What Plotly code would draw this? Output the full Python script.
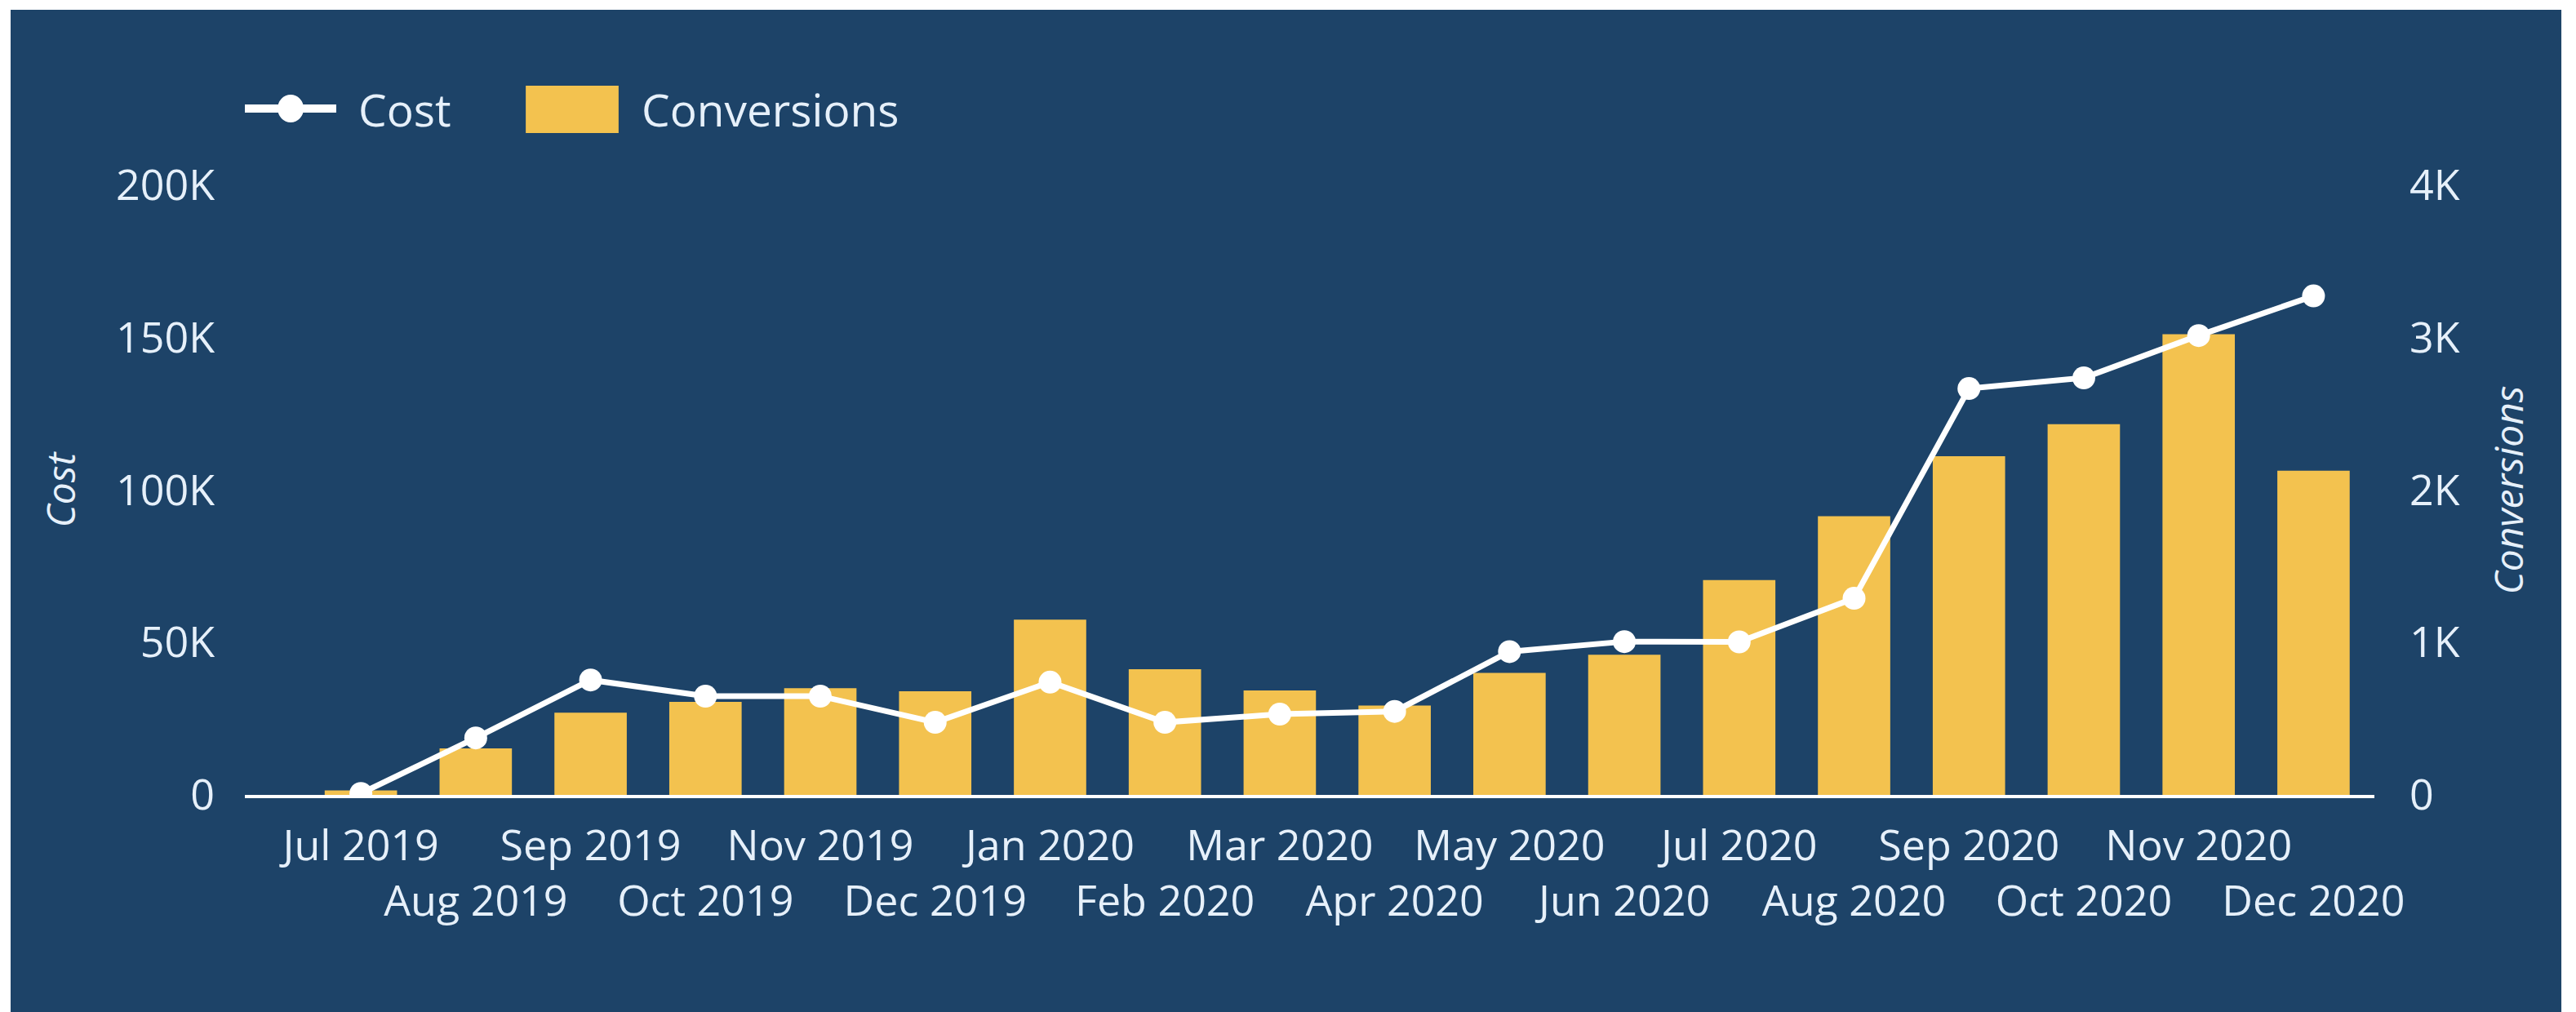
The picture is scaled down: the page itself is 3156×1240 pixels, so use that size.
import plotly.graph_objects as go

months = ["Jul 2019", "Aug 2019", "Sep 2019", "Oct 2019", "Nov 2019", "Dec 2019",
          "Jan 2020", "Feb 2020", "Mar 2020", "Apr 2020", "May 2020", "Jun 2020",
          "Jul 2020", "Aug 2020", "Sep 2020", "Oct 2020", "Nov 2020", "Dec 2020"]
cost = [500, 18700, 37700, 32400, 32400, 23800,
        37000, 23800, 26500, 27400, 47000, 50300,
        50200, 64500, 133300, 136800, 150700, 163700]
conversions = [30, 305, 540, 610, 700, 680,
               1150, 825, 685, 587, 800, 920,
               1410, 1828, 2222, 2433, 3023, 2127]
cost_ticks = [0, 50000, 100000, 150000, 200000]
cost_tick_text = ["0", "50K", "100K", "150K", "200K"]
conv_ticks = [0, 1000, 2000, 3000, 4000]
conv_tick_text = ["0", "1K", "2K", "3K", "4K"]
series_names = ["Cost", "Conversions"]

BG = "#1d4368"
BAR = "#f3c24f"
TXT = "#e6f0fa"
FONT = "Open Sans"

# staggered month labels: every second label on a second line
month_text = [m if i % 2 == 0 else "<br>" + m for i, m in enumerate(months)]

fig = go.Figure()
# bars on primary axis (right side), cost line on overlaying axis (left side) so it draws on top
fig.add_trace(go.Bar(
    x=months, y=conversions, name=series_names[1], yaxis="y",
    marker=dict(color=BAR, line=dict(width=0)), showlegend=False,
))
fig.add_trace(go.Scatter(
    x=months, y=cost, name=series_names[0], yaxis="y2",
    mode="lines+markers",
    line=dict(color="white", width=7),
    marker=dict(color="white", size=28),
    showlegend=False,
))

# custom legend (larger symbols, as in the reference)
leg_y = 1.1258
shapes = [
    dict(type="rect", xref="paper", yref="paper",
         x0=-0.110, x1=1.0878, y0=-0.4, y1=1.2878,
         fillcolor=BG, line=dict(width=0), layer="below"),
    dict(type="line", xref="paper", yref="paper",
         x0=0.0, x1=0.0429, y0=leg_y, y1=leg_y,
         line=dict(color="white", width=10)),
    dict(type="circle", xref="paper", yref="paper",
         xsizemode="pixel", ysizemode="pixel", xanchor=0.0215, yanchor=leg_y,
         x0=-16, x1=16, y0=-17, y1=17,
         fillcolor="white", line=dict(width=0)),
    dict(type="rect", xref="paper", yref="paper",
         x0=0.1319, x1=0.1755, y0=1.0857, y1=1.1633,
         fillcolor=BAR, line=dict(width=0)),
]
annotations = [
    dict(text=series_names[0], xref="paper", yref="paper", x=0.0525, y=leg_y,
         xanchor="left", yanchor="middle", showarrow=False,
         font=dict(family=FONT, size=55, color=TXT)),
    dict(text=series_names[1], xref="paper", yref="paper", x=0.1855, y=leg_y,
         xanchor="left", yanchor="middle", showarrow=False,
         font=dict(family=FONT, size=55, color=TXT)),
]

fig.update_layout(
    width=3156, height=1240,
    margin=dict(l=300, r=247, t=227, b=266),
    paper_bgcolor="white",
    plot_bgcolor=BG,
    bargap=0.37,
    font=dict(family=FONT, color=TXT, size=52),
    showlegend=False,
    shapes=shapes,
    annotations=annotations,
    xaxis=dict(
        type="category", range=[-1.01, 17.53],
        tickmode="array", tickvals=months, ticktext=month_text,
        showgrid=False, zeroline=False, showline=True,
        linecolor="white", linewidth=4, ticks="",
        tickangle=0, tickfont=dict(size=52, color=TXT), ticklabelstandoff=14,
    ),
    yaxis=dict(
        range=[0, 4000], side="right",
        tickmode="array", tickvals=conv_ticks, ticktext=conv_tick_text,
        showgrid=False, zeroline=False, showline=False, ticks="",
        tickfont=dict(size=52, color=TXT), ticklabelstandoff=42,
        title=dict(text="<i>Conversions</i>", font=dict(size=48, color=TXT), standoff=44),
    ),
    yaxis2=dict(
        range=[0, 200000], overlaying="y", side="left",
        tickmode="array", tickvals=cost_ticks, ticktext=cost_tick_text,
        showgrid=False, zeroline=False, showline=False, ticks="",
        tickfont=dict(size=52, color=TXT), ticklabelstandoff=36,
        title=dict(text="<i>Cost</i>", font=dict(size=48, color=TXT), standoff=34),
    ),
)

fig.write_html("out.html")
